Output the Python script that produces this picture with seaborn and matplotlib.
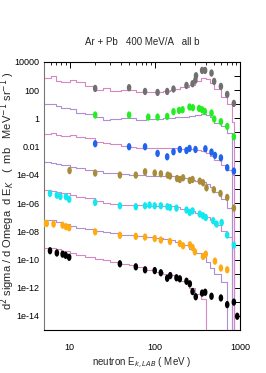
import numpy as np
import pandas as pd
import matplotlib
matplotlib.use("Agg")
import matplotlib.pyplot as plt
from matplotlib.path import Path
from matplotlib.ticker import FixedLocator, FuncFormatter, LogLocator, NullFormatter
import seaborn as sns

sns.set_theme(style="white")
plt.rcParams['font.family'] = ['Liberation Sans Narrow', 'Liberation Sans', 'DejaVu Sans']

title = "Ar + Pb   400 MeV/A   all b"
xlabel = "neutron E$_{k,LAB}$ ( MeV )"
ylabel = "d$^2$ sigma / d Omega  d E$_K$   (  mb   MeV$^{-1}$ sr$^{-1}$ )"

series_names = ["s1", "s2", "s3", "s4", "s5", "s6", "s7"]
point_colors = ["#707070", "#22ee22", "#1f63ee", "#a88c3a", "#11e8f0", "#ffaa11", "#000000"]
line_colors = ["#d488c4", "#ae90d2", "#d488c4", "#ae90d2", "#d488c4", "#ae90d2", "#d488c4"]

# ---- experimental points ----
s1_E = [20, 50, 77, 108, 140, 166, 236, 278, 300, 305, 360, 390, 464, 498, 598, 709, 849]
s1_v = [132, 149, 81, 69, 81, 120, 216, 285, 505, 1050, 2500, 2500, 1630, 415, 184, 50, 11.5]

s2_E = [20, 50, 84, 108, 140, 166, 193, 212, 256, 280, 332, 360, 387, 464, 499, 598, 709, 849]
s2_v = [1.73, 1.73, 1.24, 1.24, 1.37, 2.96, 3.66, 4.1, 6.4, 5.7, 5.06, 4.1, 3.1, 2.39, 0.9, 0.58, 0.27, 0.05]

s3_E = [20, 50, 77, 108, 140, 166, 197, 236, 256, 301, 393, 464, 509, 598, 709, 849]
s3_v = [0.016, 0.0098, 0.0098, 0.0033, 0.0019, 0.0043, 0.0063, 0.0053, 0.0074, 0.0063, 0.007,
        0.0041, 0.0024, 0.0016, 3.2e-4, 1.85e-4]

s4_E = [10, 20, 39, 60, 77, 100, 118, 142, 151, 183, 197, 215, 258, 278, 338, 369, 405, 494, 591, 709, 849]
s4_v = [2.0e-4, 1.34e-4, 9.6e-5, 9.6e-5, 1.65e-4, 1.34e-4, 1.19e-4, 9.6e-5, 8.2e-5, 5.5e-5, 4.7e-5,
        6.2e-5, 4.0e-5, 4.7e-5, 3.6e-5, 2.75e-5, 1.2e-5, 8.8e-6, 4.8e-6, 2.5e-6, 4.4e-7]

s5_E = [5.9, 7.1, 7.8, 9.1, 9.9, 20, 39, 60, 77, 87, 100, 118, 141, 151, 180, 236, 258, 278, 338, 369,
        397, 485, 532, 610, 709, 849]
s5_v = [4.8e-6, 3.6e-6, 2.9e-6, 2.8e-6, 1.86e-6, 1.1e-6, 6.4e-7, 5.5e-7, 6.4e-7, 7.2e-7, 6.4e-7, 6.4e-7,
        5.5e-7, 4.9e-7, 4.4e-7, 3.2e-7, 2.16e-7, 2.8e-7, 1.66e-7, 1.26e-7, 9.5e-8, 5.6e-8, 3.25e-8,
        4.2e-8, 5.4e-9, 1.05e-9]

s6_E = [5.05, 5.4, 6.5, 8.3, 9.1, 9.9, 20, 39, 60, 77, 100, 118, 151, 197, 215, 259, 278, 296, 369, 397,
        509, 598, 709]
s6_v = [3.6e-8, 3.6e-8, 3.25e-8, 2.7e-8, 2.1e-8, 1.78e-8, 9.2e-9, 5.2e-9, 4.4e-9, 3.9e-9, 3.1e-9, 2.4e-9,
        1.9e-9, 1.37e-9, 9.4e-10, 1.1e-9, 7.1e-10, 3.5e-10, 1.64e-10, 2.4e-10, 7.7e-11, 2.5e-11, 1.87e-11]

s7_E = [5.9, 7.1, 8.3, 9.0, 9.9, 39, 60, 77, 100, 118, 140, 152, 180, 197, 236, 258, 278, 303, 360, 391,
        464, 598, 709, 849, 929]
s7_v = [4.2e-10, 2.9e-10, 2.4e-10, 2.0e-10, 1.44e-10, 5.0e-11, 3.05e-11, 1.87e-11, 1.64e-11, 1.15e-11,
        4.7e-12, 7.3e-12, 5.1e-12, 4.3e-12, 2.9e-12, 1.9e-12, 5.4e-13, 2.3e-13, 4.2e-13, 4.8e-13, 2.5e-13,
        1.9e-13, 6.4e-14, 9.6e-14, 9.6e-15]

# ---- model histograms (bin edges shared) ----
bin_edges = [5, 6, 7, 8, 10, 12, 15, 20, 25, 30, 40, 50, 60, 80, 100, 125, 150, 175, 200, 250, 300,
             350, 400, 450, 500, 600, 700, 800, 850]

m1 = [760, 1050, 470, 400, 550, 400, 205, 107, 137, 91, 107, 100, 78, 69, 71, 82, 100, 117, 163, 225,
      470, 720, 590, 340, 126, 34, 11, 0.6]
m2 = [11, 10, 7.2, 5.6, 4.4, 2.5, 2.1, 1.3, 0.74, 0.87, 1.0, 1.05, 0.79, 0.87, 0.9, 1.05, 1.1, 1.25,
      1.35, 1.55, 1.8, 2.1, 1.7, 1.25, 0.49, 0.27, 0.095]
m3 = [0.078, 0.089, 0.065, 0.059, 0.065, 0.046, 0.039, 0.022, 0.019, 0.0147, 0.0115, 0.0098, 0.0084,
      0.0074, 0.0076, 0.0083, 0.0079, 0.0074, 0.0068, 0.0063, 0.0055, 0.0049, 0.0037, 0.0022, 0.0012,
      5.2e-4, 2.3e-4, 1e-4]
m4 = [8.1e-4, 6.6e-4, 5.6e-4, 4.8e-4, 3.7e-4, 2.9e-4, 2.3e-4, 1.8e-4, 1.4e-4, 1.25e-4, 1.1e-4, 1.02e-4,
      9.6e-5, 8.6e-5, 8.2e-5, 8.2e-5, 7.7e-5, 6.9e-5, 5.7e-5, 4.5e-5, 3.8e-5, 3.2e-5, 2.3e-5, 1.44e-5,
      6.3e-6, 2.0e-6, 4.7e-7]
m5 = [8.1e-6, 6.9e-6, 5.9e-6, 4.8e-6, 3.6e-6, 2.8e-6, 2.2e-6, 1.35e-6, 9.8e-7, 8.9e-7, 7.6e-7, 7.2e-7,
      6.8e-7, 6.4e-7, 6.4e-7, 6.1e-7, 5.8e-7, 5.0e-7, 4.0e-7, 2.8e-7, 2.0e-7, 1.6e-7, 1.07e-7, 6.6e-8,
      2.9e-8, 1.1e-8, 4.1e-9, 1.3e-9]
m6 = [6.0e-8, 6.6e-8, 4.7e-8, 3.4e-8, 2.3e-8, 1.78e-8, 1.4e-8, 1.1e-8, 8.8e-9, 7.2e-9, 5.9e-9, 5.2e-9,
      4.4e-9, 3.8e-9, 3.3e-9, 2.9e-9, 2.3e-9, 1.8e-9, 1.1e-9, 5.7e-10, 3.0e-10, 1.55e-10, 6.9e-11,
      2.6e-11, 9.7e-12, 2.6e-12]
m7 = [6.3e-10, 6.8e-10, 5.4e-10, 4.2e-10, 3.0e-10, 2.2e-10, 1.56e-10, 1.13e-10, 8.9e-11, 6.9e-11,
      5.0e-11, 3.9e-11, 2.8e-11, 1.87e-11, 1.35e-11, 1.02e-11, 7.6e-12, 5.5e-12, 3.1e-12, 1.0e-12,
      3.7e-13, 1.65e-13]

y_ticks = [1e4, 1e3, 1e2, 1e1, 1, 1e-1, 1e-2, 1e-3, 1e-4, 1e-5, 1e-6, 1e-7, 1e-8, 1e-9, 1e-10,
           1e-11, 1e-12, 1e-13, 1e-14]
y_labels = {4: "10000", 2: "100", 0: "1", -2: "0.01", -4: "1e-04", -6: "1e-06", -8: "1e-08",
            -10: "1e-10", -12: "1e-12", -14: "1e-14"}
x_ticks = [10, 100, 1000]
x_labels = ["10", "100", "1000"]

# ---- build tables ----
pts_E = [s1_E, s2_E, s3_E, s4_E, s5_E, s6_E, s7_E]
pts_v = [s1_v, s2_v, s3_v, s4_v, s5_v, s6_v, s7_v]
models = [m1, m2, m3, m4, m5, m6, m7]

pts = pd.concat([pd.DataFrame({"E": e, "v": v, "series": n})
                 for n, e, v in zip(series_names, pts_E, pts_v)], ignore_index=True)

line_frames = []
for n, m in zip(series_names, models):
    k = len(m)
    xs = list(bin_edges[:k + 1])
    ys = list(m) + [1e-30]
    line_frames.append(pd.DataFrame({"E": xs, "v": ys, "series": n}))
lines = pd.concat(line_frames, ignore_index=True)

fig = plt.figure(figsize=(2.66, 3.73), dpi=100)
ax = fig.add_axes([0.165, 0.115, 0.737, 0.719])
ax.set_xscale("log")
ax.set_yscale("log")

sns.lineplot(data=lines, x="E", y="v", hue="series", palette=dict(zip(series_names, line_colors)),
             estimator=None, sort=False, drawstyle="steps-post", linewidth=0.8, legend=False, ax=ax)

theta = np.linspace(0, 2 * np.pi, 40)
ell = Path(np.column_stack([0.62 * np.cos(theta), np.sin(theta)]), closed=True)
sns.scatterplot(data=pts, x="E", y="v", hue="series", palette=dict(zip(series_names, point_colors)),
                marker=ell, s=28, linewidth=0, legend=False, ax=ax, zorder=3)

ax.set_xlim(5, 1000)
ax.set_ylim(1e-15, 1e4)

ax.xaxis.set_major_locator(FixedLocator(x_ticks))
ax.xaxis.set_major_formatter(FuncFormatter(lambda v, p: x_labels[x_ticks.index(v)] if v in x_ticks else ""))
ax.xaxis.set_minor_locator(LogLocator(base=10, subs=np.arange(2, 10), numticks=20))
ax.xaxis.set_minor_formatter(NullFormatter())
ax.yaxis.set_major_locator(FixedLocator(y_ticks))
ax.yaxis.set_major_formatter(FuncFormatter(lambda v, p: y_labels.get(int(round(np.log10(v))), "")))
ax.yaxis.set_minor_locator(FixedLocator([]))

ax.tick_params(axis="both", which="both", direction="in", top=True, right=True,
               labelsize=6.5, colors="black")
ax.tick_params(axis="y", which="major", pad=3)
ax.tick_params(axis="x", which="major", pad=9)
ax.tick_params(axis="both", which="major", length=4, width=0.7)
ax.tick_params(axis="x", which="minor", length=2.5, width=0.6)
for sp in ax.spines.values():
    sp.set_color("black")
    sp.set_linewidth(0.8)
ax.spines["left"].set_color("#777777")

ax.set_xlabel(xlabel, fontsize=7, va="top")
ax.xaxis.set_label_coords(0.5, -0.095)
ax.set_ylabel(ylabel, fontsize=8)
ax.yaxis.set_label_coords(-0.135, 0.52)
fig.text(0.535, 0.887, title, ha="center", va="center", fontsize=7)

fig.savefig("out.png", dpi=100, facecolor="white")
